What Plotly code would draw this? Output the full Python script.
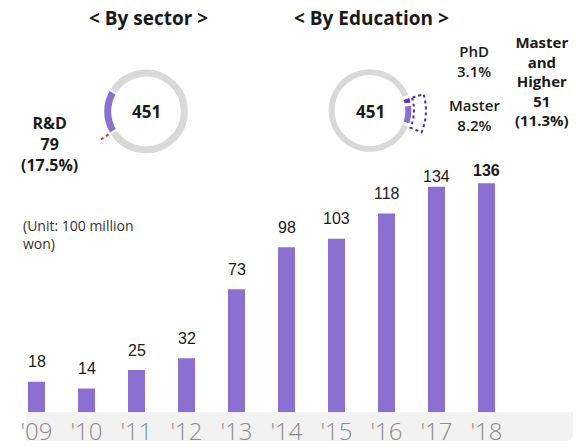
import math
import plotly.graph_objects as go

# ---------------- data ----------------
years = ["'09", "'10", "'11", "'12", "'13", "'14", "'15", "'16", "'17", "'18"]
amounts = [18, 14, 25, 32, 73, 98, 103, 118, 134, 136]

sector_labels = ["R&D", "Other"]
sector_values = [79, 372]
sector_total = 451

edu_labels = ["PhD", "Master", "Other"]
edu_values = [14, 37, 400]
edu_total = 451

W, H = 579, 447
PURPLE = "#8B6FD1"
GRAY_RING = "#d9d9d9"


def px(x):
    return x / W


def py(y):
    return 1 - y / H


fig = go.Figure()

# ---------------- bar chart ----------------
fig.add_trace(go.Bar(
    x=years, y=amounts, width=0.34,
    marker=dict(color=PURPLE, line=dict(width=0)),
    xaxis="x", yaxis="y", showlegend=False, hoverinfo="x+y",
))

base_y = 414
scale = 1.69
y_top = base_y / scale

# ---------------- donuts ----------------
def donut_domain(cx, cy, r):
    return dict(x=[px(cx - r), px(cx + r)], y=[py(cy + r), py(cy - r)])


fig.add_trace(go.Pie(
    labels=sector_labels, values=sector_values, hole=0.79, sort=False,
    direction="clockwise", rotation=238,
    marker=dict(colors=[PURPLE, GRAY_RING], line=dict(color="white", width=2)),
    textinfo="none", showlegend=False,
    domain=donut_domain(146, 112, 43),
))

fig.add_trace(go.Pie(
    labels=edu_labels, values=edu_values, hole=0.79, sort=False,
    direction="clockwise", rotation=70,
    marker=dict(colors=["#5b3cb8", PURPLE, GRAY_RING], line=dict(color="white", width=3)),
    textinfo="none", showlegend=False,
    domain=donut_domain(370, 111, 43),
))

# dotted exploded outline on education donut
cx, cy = 370, 111
def pt(r, a):
    rad = math.radians(a)
    return px(cx + r * math.cos(rad)), py(cy - r * math.sin(rad))

path = []
angs = [17 - i * 40 / 12 for i in range(13)]
for i, a in enumerate(angs):
    x, y = pt(44, a)
    path.append(("M" if i == 0 else "L") + f"{x:.5f},{y:.5f}")
for a in reversed(angs):
    x, y = pt(56, a)
    path.append(f"L{x:.5f},{y:.5f}")
path.append("Z")

shapes = [
    dict(type="path", xref="paper", yref="paper", path=" ".join(path),
         line=dict(color="#4b2fa8", width=2, dash="dot"), fillcolor="rgba(0,0,0,0)", layer="above"),
    # small red pointer near sector donut
    dict(type="line", xref="paper", yref="paper",
         x0=px(101), y0=py(140), x1=px(110), y1=py(134),
         line=dict(color="#e03030", width=2, dash="dot")),
]

# gray band behind x tick labels (rounded bottom-right corner)
bx0, bx1, by0, by1, rr = px(26), px(573), py(414), py(443), 8
band = (f"M{bx0},{by0} L{bx1},{by0} L{bx1},{py(443 - rr)} "
        f"Q{bx1},{by1} {px(573 - rr)},{by1} L{bx0},{by1} Z")
shapes.insert(0, dict(type="path", xref="paper", yref="paper", path=band,
                      fillcolor="#f2f2f2", line=dict(width=0), layer="below"))

# ---------------- annotations ----------------
ann = []
TXT = "#1a1a1a"
SANS = "Open Sans"


def note(text, x, y, size, **kw):
    d = dict(text=text, x=px(x), y=py(y), xref="paper", yref="paper", showarrow=False,
             xanchor="center", yanchor="middle", font=dict(family=SANS, size=size, color=TXT))
    d.update(kw)
    return d


ann.append(note("<b>< By sector ></b>", 148, 18, 19))
ann.append(note("<b>< By Education ></b>", 371, 18, 19))

for cxx, cyy in [(146, 112), (370, 112)]:
    ann.append(note(f"<b>{sector_total}</b>", cxx, cyy, 17))

pct_rd = sector_values[0] / sector_total * 100
ann.append(note(f"<b>{sector_labels[0]}<br>{sector_values[0]}<br>({pct_rd:.1f}%)</b>", 49, 145, 16))

pct_phd = edu_values[0] / edu_total * 100
pct_ms = edu_values[1] / edu_total * 100
hi = edu_values[0] + edu_values[1]
ann.append(note(f"{edu_labels[0]}<br>{pct_phd:.1f}%", 474, 61, 15,
                font=dict(family=SANS, size=15, color=TXT, weight=600)))
ann.append(note(f"{edu_labels[1]}<br>{pct_ms:.1f}%", 474, 116, 15,
                font=dict(family=SANS, size=15, color=TXT, weight=600)))
ann.append(note(f"<b>Master<br>and<br>Higher<br>{hi}<br>({hi / edu_total * 100:.1f}%)</b>", 542, 81, 15))

ann.append(note("(Unit: 100 million<br>won)", 21, 236, 14, xanchor="left", align="left",
                font=dict(family=SANS, size=14, color="#333333")))

for i, (yr, v) in enumerate(zip(years, amounts)):
    shift = 20
    if i == len(years) - 2:
        shift = 10
    elif i == len(years) - 1:
        shift = 13
    bold = i == len(years) - 1
    ann.append(dict(text=f"<b>{v}</b>" if bold else str(v), x=yr, y=v, xref="x", yref="y",
                    showarrow=False, xanchor="center", yanchor="middle", yshift=shift,
                    font=dict(family="Liberation Sans, Arial", size=16, color=TXT)))

fig.update_layout(
    width=W, height=H,
    margin=dict(l=0, r=0, t=0, b=0),
    paper_bgcolor="white", plot_bgcolor="rgba(0,0,0,0)",
    xaxis=dict(domain=[px(11.5), px(511.5)], range=[-0.5, 9.5], showgrid=False, zeroline=False,
               showline=False, ticks="", ticklabelstandoff=3,
               tickfont=dict(family=SANS, size=24, color="#8c8c8c", weight=300),
               anchor="y", fixedrange=True),
    yaxis=dict(domain=[py(base_y), 1], range=[0, y_top], visible=False, fixedrange=True),
    shapes=shapes,
    annotations=ann,
    bargap=0.3,
)

fig.write_html("out.html", config={"displayModeBar": False},
               post_script="document.body.style.margin='0';document.body.style.padding='0';")
